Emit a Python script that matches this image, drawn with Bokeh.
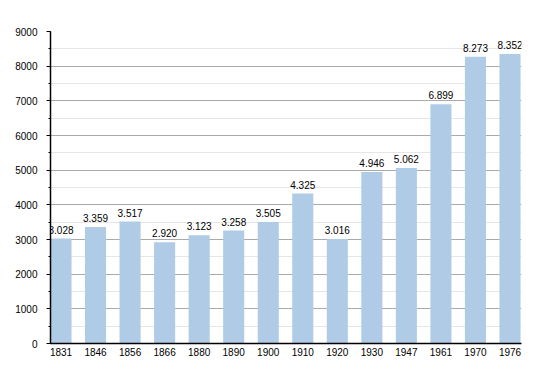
from bokeh.plotting import figure
from bokeh.models import ColumnDataSource, Range1d, FixedTicker, SingleIntervalTicker, LabelSet
from bokeh.core.properties import value
from bokeh.embed import file_html
from bokeh.resources import INLINE

years = ["1831", "1846", "1856", "1866", "1880", "1890", "1900", "1910",
         "1920", "1930", "1947", "1961", "1970", "1976"]
population = [3028, 3359, 3517, 2920, 3123, 3258, 3505, 4325,
              3016, 4946, 5062, 6899, 8273, 8352]
value_labels = ["3.028", "3.359", "3.517", "2.920", "3.123", "3.258", "3.505", "4.325",
                "3.016", "4.946", "5.062", "6.899", "8.273", "8.352"]

xs = list(range(len(years)))
src = ColumnDataSource(dict(x=xs, y=population, lab=value_labels))

FONT = "Liberation Sans"
FS = "10px"

p = figure(width=542, height=365, output_backend="svg", toolbar_location=None,
           x_range=Range1d(-0.304, 13.333), y_range=Range1d(0, 9000),
           min_border_left=50, min_border_right=21, min_border_top=31, min_border_bottom=22)
p.outline_line_color = None
p.background_fill_color = "white"
p.border_fill_color = "white"

p.vbar(x="x", top="y", width=0.61, source=src, fill_color="#afcbe6", line_color=None)

labels = LabelSet(x="x", y="y", text="lab", source=src, text_align="center",
                  text_baseline="alphabetic", y_offset=5, text_font_size=value(FS),
                  text_font=value(FONT), text_color="black")
p.add_layout(labels)

# y axis
p.yaxis.ticker = SingleIntervalTicker(interval=1000, num_minor_ticks=2)
p.yaxis.axis_line_color = "black"
p.yaxis.axis_line_width = 1.5
p.yaxis.major_tick_in = 0
p.yaxis.major_tick_out = 4
p.yaxis.minor_tick_in = 0
p.yaxis.minor_tick_out = 2
p.yaxis.major_tick_line_color = "black"
p.yaxis.minor_tick_line_color = "black"
p.yaxis.major_label_standoff = 9
p.yaxis.major_label_text_font = FONT
p.yaxis.major_label_text_font_size = FS
p.yaxis.major_label_text_color = "black"

# x axis
p.xaxis.ticker = FixedTicker(ticks=xs)
p.xaxis.major_label_overrides = {i: y for i, y in zip(xs, years)}
p.xaxis.axis_line_color = "black"
p.xaxis.axis_line_width = 1.5
p.xaxis.major_tick_in = 0
p.xaxis.major_tick_out = 0
p.xaxis.minor_tick_line_color = None
p.xaxis.major_label_standoff = 4
p.xaxis.major_label_text_font = FONT
p.xaxis.major_label_text_font_size = FS
p.xaxis.major_label_text_color = "black"

# grid
p.xgrid.grid_line_color = None
p.ygrid.grid_line_color = "#aaaaaa"
p.ygrid.minor_grid_line_color = "#e6e6e6"
p.ygrid.level = "underlay"

open("out.html", "w").write(file_html(p, INLINE))
